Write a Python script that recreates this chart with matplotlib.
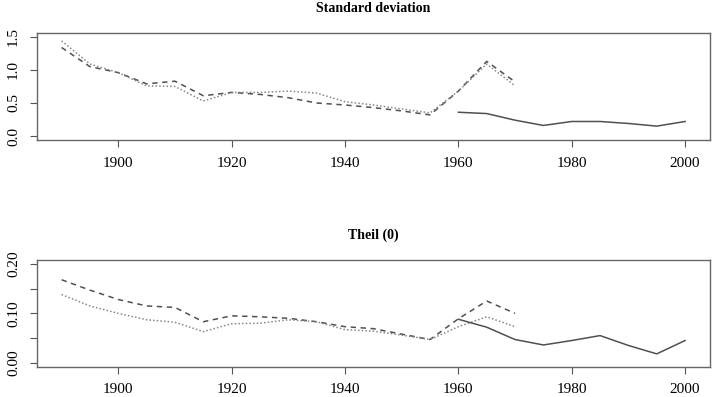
import matplotlib
matplotlib.use("Agg")
import matplotlib.pyplot as plt

plt.rcParams['font.family'] = ['Liberation Serif', 'DejaVu Serif']

years_a = [1890, 1895, 1900, 1905, 1910, 1915, 1920, 1925, 1930, 1935, 1940,
           1945, 1950, 1955, 1960, 1965, 1970]
years_b = [1960, 1965, 1970, 1975, 1980, 1985, 1990, 1995, 2000]

# Standard deviation
sd_dashed = [1.34, 1.05, 0.96, 0.79, 0.83, 0.61, 0.66, 0.63, 0.58, 0.50, 0.47,
             0.43, 0.38, 0.32, 0.68, 1.13, 0.82]
sd_dotted = [1.44, 1.09, 0.96, 0.76, 0.75, 0.53, 0.66, 0.66, 0.68, 0.65, 0.52,
             0.47, 0.41, 0.35, 0.68, 1.09, 0.76]
sd_solid = [0.36, 0.34, 0.24, 0.16, 0.22, 0.22, 0.19, 0.15, 0.22]

# Theil (0)
th_dashed = [0.168, 0.147, 0.128, 0.115, 0.112, 0.083, 0.095, 0.093, 0.090, 0.083, 0.073,
             0.069, 0.058, 0.047, 0.089, 0.125, 0.100]
th_dotted = [0.138, 0.115, 0.100, 0.087, 0.082, 0.063, 0.079, 0.080, 0.087, 0.083, 0.067,
             0.064, 0.056, 0.047, 0.073, 0.093, 0.073]
th_solid = [0.088, 0.072, 0.047, 0.036, 0.045, 0.055, 0.035, 0.018, 0.045]

panels = [
    ("Standard deviation", sd_dashed, sd_dotted, sd_solid, (0, 1.5),
     [0, 0.5, 1.0, 1.5], ["0.0", "0.5", "1.0", "1.5"]),
    ("Theil (0)", th_dashed, th_dotted, th_solid, (0, 0.2),
     [0, 0.05, 0.10, 0.15, 0.20], ["0.00", "", "0.10", "", "0.20"]),
]

fig = plt.figure(figsize=(7.19, 3.97), dpi=100)
boxes = [[0.051, 0.6474, 0.9365, 0.2695], [0.051, 0.0763, 0.9365, 0.2688]]

for box, (title, dashed, dotted, solid, ylim, yt, ytl) in zip(boxes, panels):
    ax = fig.add_axes(box)
    ax.plot(years_a, dashed, color='#505050', lw=1.1, dashes=(3.5, 3))
    ax.plot(years_a, dotted, color='#888888', lw=1.1, dashes=(1, 1.4))
    ax.plot(years_b, solid, color='#505050', lw=1.1)
    span = ylim[1] - ylim[0]
    ax.set_ylim(ylim[0] - 0.04 * span, ylim[1] + 0.04 * span)
    ax.set_xlim(1890 - 4.4, 2000 + 4.4)
    ax.set_xticks([1900, 1920, 1940, 1960, 1980, 2000])
    ax.set_yticks(yt)
    ax.set_yticklabels(ytl, rotation=90, va='center')
    ax.tick_params(direction='out', length=5, width=0.8, color='#555555',
                   labelsize=11, pad=7)
    for s in ax.spines.values():
        s.set_color('#666666')
        s.set_linewidth(1.0)
    ax.set_title(title, fontweight='bold', fontsize=10, pad=15)

fig.savefig('out.png', dpi=100)
